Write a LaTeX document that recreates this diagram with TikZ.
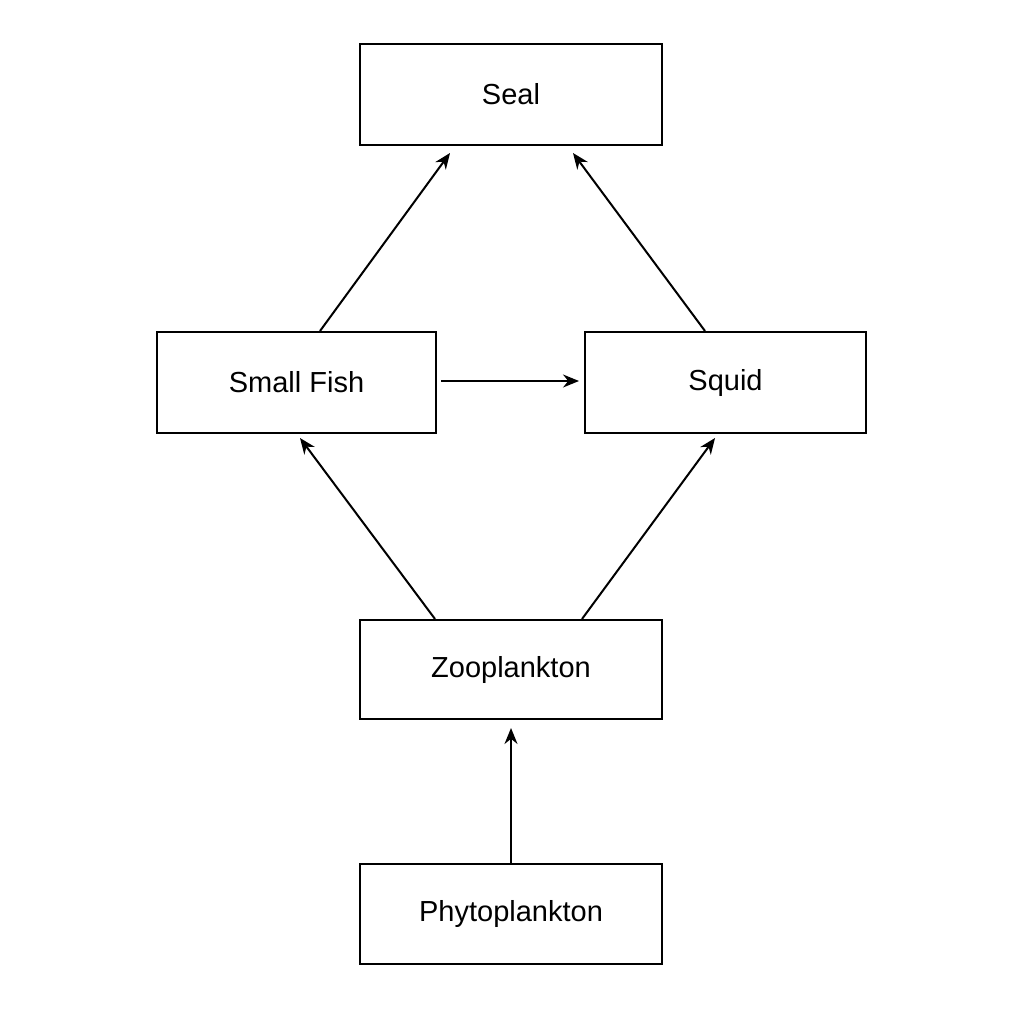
\documentclass[tikz,border=0pt]{standalone}
\usepackage{fontspec}
\setmainfont{Liberation Sans}
\usetikzlibrary{arrows.meta}
\begin{document}
\begin{tikzpicture}[x=1pt,y=-1pt,
  box/.style={draw,line width=2pt,inner sep=0pt,font=\fontsize{29}{34}\selectfont},
  arr/.style={line width=2pt,-{Stealth[length=16pt,width=13pt]}}]
\fill[white] (0,0) rectangle (1024,1024);
\useasboundingbox (0,0) rectangle (1024,1024);
\node[box,minimum width=302pt,minimum height=101pt] (seal) at (511,94.5) {Seal};
\node[box,minimum width=279pt,minimum height=101pt] (sf) at (296.5,382.5) {Small Fish};
\node[box,minimum width=281pt,minimum height=101pt] (sq) at (725.5,382.5) {Squid};
\node[box,minimum width=302pt,minimum height=99pt] (zoo) at (511,669.5) {Zooplankton};
\node[box,minimum width=302pt,minimum height=100pt] (phy) at (511,914) {Phytoplankton};
\draw[arr] ([xshift=23.5pt]sf.north) -- ([xshift=-61pt,yshift=-7pt]seal.south);
\draw[arr] ([xshift=-20.5pt]sq.north) -- ([xshift=62pt,yshift=-7pt]seal.south);
\draw[arr] ([xshift=4pt,yshift=1.5pt]sf.east) -- ([xshift=-5pt,yshift=1.5pt]sq.west);
\draw[arr] ([xshift=-76pt]zoo.north) -- ([xshift=3.5pt,yshift=-4pt]sf.south);
\draw[arr] ([xshift=71pt]zoo.north) -- ([xshift=-10.5pt,yshift=-4pt]sq.south);
\draw[arr] (phy.north) -- ([yshift=-8pt]zoo.south);
\end{tikzpicture}
\end{document}
